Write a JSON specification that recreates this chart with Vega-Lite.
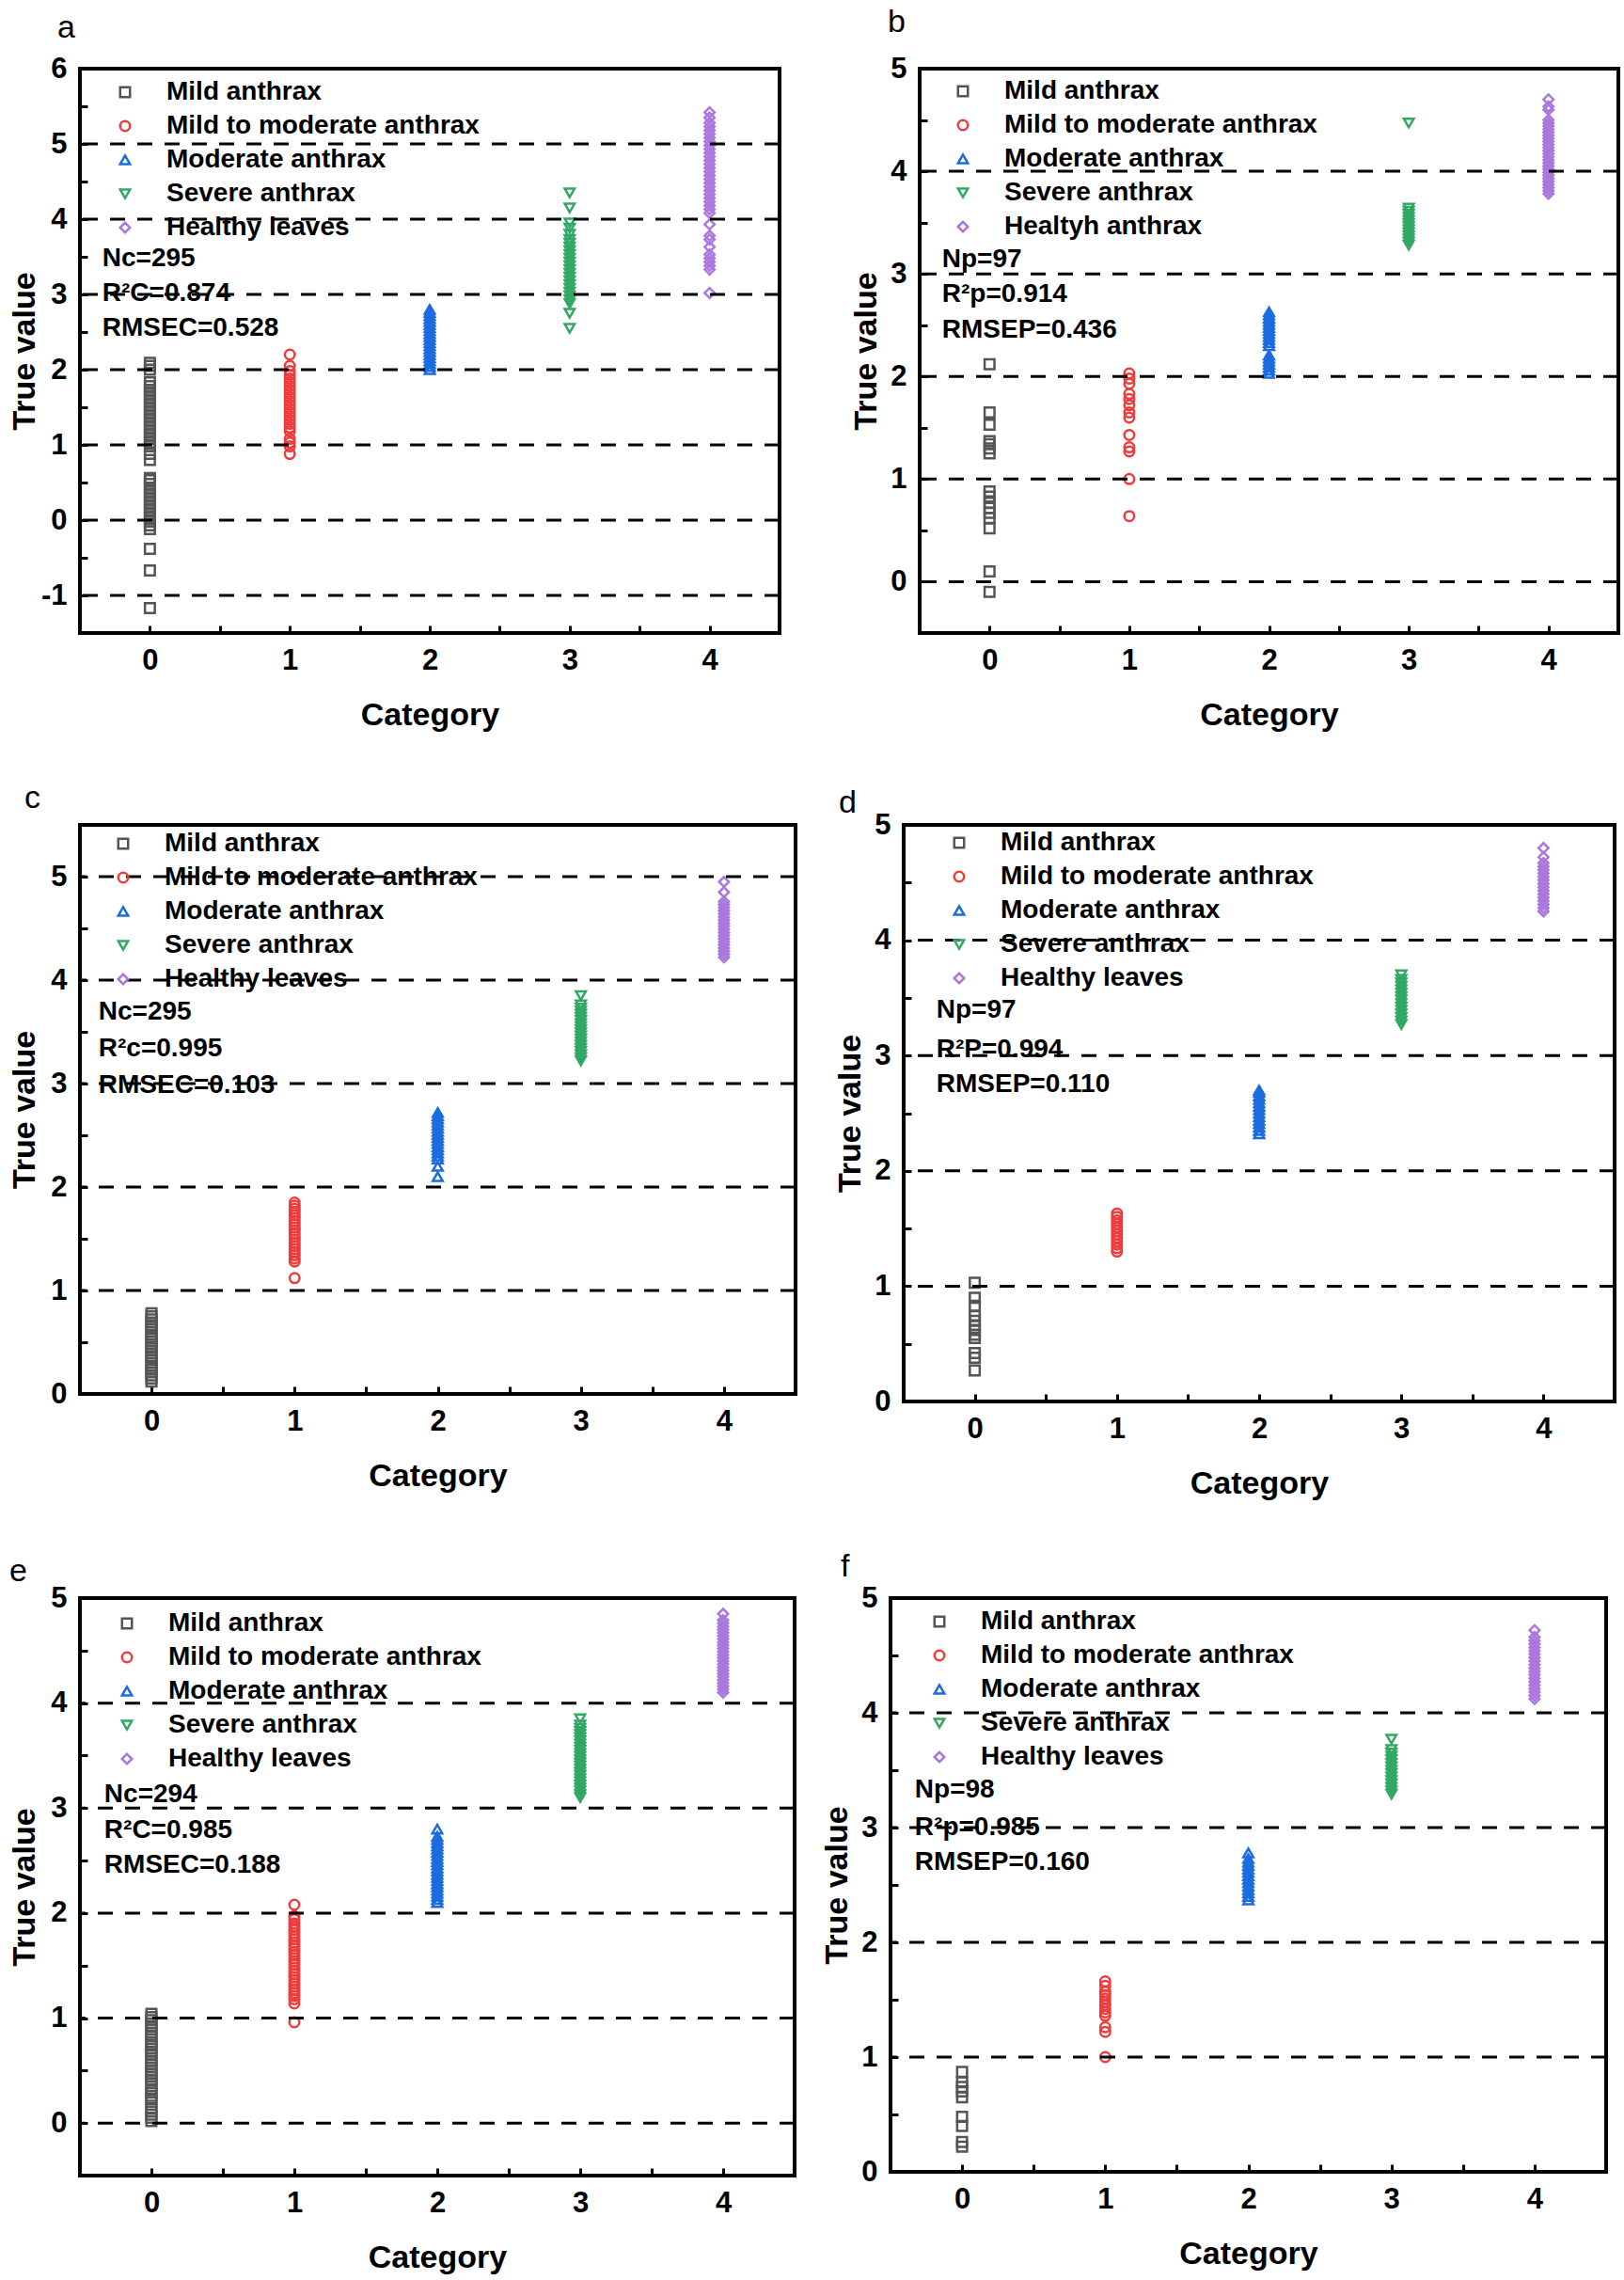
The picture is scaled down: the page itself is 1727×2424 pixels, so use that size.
{
"$schema":"https://vega.github.io/schema/vega-lite/v6.json",
"padding":{"left":7,"top":5,"right":5,"bottom":5},
"datasets":{
"pa":[{"c":0,"v":-1.17},{"c":0,"v":-0.67},{"c":0,"v":-0.38},{"c":0,"v":-0.12},{"c":0,"v":-0.07},{"c":0,"v":-0.02},{"c":0,"v":0.03},{"c":0,"v":0.08},{"c":0,"v":0.13},{"c":0,"v":0.18},{"c":0,"v":0.23},{"c":0,"v":0.28},{"c":0,"v":0.33},{"c":0,"v":0.38},{"c":0,"v":0.43},{"c":0,"v":0.48},{"c":0,"v":0.53},{"c":0,"v":0.56},{"c":0,"v":0.8},{"c":0,"v":0.88},{"c":0,"v":0.98},{"c":0,"v":1.03},{"c":0,"v":1.08},{"c":0,"v":1.13},{"c":0,"v":1.18},{"c":0,"v":1.23},{"c":0,"v":1.28},{"c":0,"v":1.33},{"c":0,"v":1.38},{"c":0,"v":1.43},{"c":0,"v":1.48},{"c":0,"v":1.53},{"c":0,"v":1.58},{"c":0,"v":1.63},{"c":0,"v":1.68},{"c":0,"v":1.73},{"c":0,"v":1.78},{"c":0,"v":1.83},{"c":0,"v":2.0},{"c":0,"v":2.05},{"c":0,"v":2.09},
{"c":1,"v":0.88},{"c":1,"v":0.98},{"c":1,"v":1.03},{"c":1,"v":1.08},{"c":1,"v":1.18},{"c":1,"v":1.23},{"c":1,"v":1.28},{"c":1,"v":1.33},{"c":1,"v":1.38},{"c":1,"v":1.43},{"c":1,"v":1.48},{"c":1,"v":1.53},{"c":1,"v":1.58},{"c":1,"v":1.63},{"c":1,"v":1.68},{"c":1,"v":1.73},{"c":1,"v":1.78},{"c":1,"v":1.83},{"c":1,"v":1.88},{"c":1,"v":1.93},{"c":1,"v":1.98},{"c":1,"v":2.05},{"c":1,"v":2.2},
{"c":2,"v":2.0},{"c":2,"v":2.04},{"c":2,"v":2.08},{"c":2,"v":2.12},{"c":2,"v":2.16},{"c":2,"v":2.2},{"c":2,"v":2.24},{"c":2,"v":2.28},{"c":2,"v":2.32},{"c":2,"v":2.36},{"c":2,"v":2.4},{"c":2,"v":2.44},{"c":2,"v":2.48},{"c":2,"v":2.52},{"c":2,"v":2.56},{"c":2,"v":2.6},{"c":2,"v":2.64},{"c":2,"v":2.68},{"c":2,"v":2.72},{"c":2,"v":2.76},{"c":2,"v":2.8},
{"c":3,"v":2.55},{"c":3,"v":2.75},{"c":3,"v":2.88},{"c":3,"v":2.93},{"c":3,"v":2.98},{"c":3,"v":3.03},{"c":3,"v":3.08},{"c":3,"v":3.13},{"c":3,"v":3.18},{"c":3,"v":3.23},{"c":3,"v":3.28},{"c":3,"v":3.33},{"c":3,"v":3.38},{"c":3,"v":3.43},{"c":3,"v":3.48},{"c":3,"v":3.53},{"c":3,"v":3.58},{"c":3,"v":3.63},{"c":3,"v":3.68},{"c":3,"v":3.73},{"c":3,"v":3.8},{"c":3,"v":3.88},{"c":3,"v":3.95},{"c":3,"v":4.15},{"c":3,"v":4.35},
{"c":4,"v":3.02},{"c":4,"v":3.33},{"c":4,"v":3.38},{"c":4,"v":3.43},{"c":4,"v":3.48},{"c":4,"v":3.53},{"c":4,"v":3.63},{"c":4,"v":3.73},{"c":4,"v":3.78},{"c":4,"v":3.93},{"c":4,"v":4.08},{"c":4,"v":4.13},{"c":4,"v":4.18},{"c":4,"v":4.23},{"c":4,"v":4.28},{"c":4,"v":4.33},{"c":4,"v":4.38},{"c":4,"v":4.43},{"c":4,"v":4.48},{"c":4,"v":4.53},{"c":4,"v":4.58},{"c":4,"v":4.63},{"c":4,"v":4.68},{"c":4,"v":4.73},{"c":4,"v":4.78},{"c":4,"v":4.83},{"c":4,"v":4.88},{"c":4,"v":4.93},{"c":4,"v":4.98},{"c":4,"v":5.03},{"c":4,"v":5.08},{"c":4,"v":5.13},{"c":4,"v":5.18},{"c":4,"v":5.23},{"c":4,"v":5.28},{"c":4,"v":5.35},{"c":4,"v":5.42}],
"pb":[{"c":0,"v":-0.1},{"c":0,"v":0.1},{"c":0,"v":0.52},{"c":0,"v":0.62},{"c":0,"v":0.67},{"c":0,"v":0.72},{"c":0,"v":0.77},{"c":0,"v":0.83},{"c":0,"v":0.88},{"c":0,"v":1.25},{"c":0,"v":1.3},{"c":0,"v":1.34},{"c":0,"v":1.37},{"c":0,"v":1.53},{"c":0,"v":1.65},{"c":0,"v":2.12},
{"c":1,"v":0.64},{"c":1,"v":1.0},{"c":1,"v":1.27},{"c":1,"v":1.31},{"c":1,"v":1.43},{"c":1,"v":1.6},{"c":1,"v":1.65},{"c":1,"v":1.72},{"c":1,"v":1.78},{"c":1,"v":1.83},{"c":1,"v":1.93},{"c":1,"v":1.98},{"c":1,"v":2.03},
{"c":2,"v":2.03},{"c":2,"v":2.06},{"c":2,"v":2.09},{"c":2,"v":2.12},{"c":2,"v":2.15},{"c":2,"v":2.18},{"c":2,"v":2.21},{"c":2,"v":2.3},{"c":2,"v":2.33},{"c":2,"v":2.36},{"c":2,"v":2.39},{"c":2,"v":2.42},{"c":2,"v":2.45},{"c":2,"v":2.48},{"c":2,"v":2.51},{"c":2,"v":2.54},{"c":2,"v":2.57},{"c":2,"v":2.6},{"c":2,"v":2.63},
{"c":3,"v":3.28},{"c":3,"v":3.31},{"c":3,"v":3.34},{"c":3,"v":3.37},{"c":3,"v":3.4},{"c":3,"v":3.43},{"c":3,"v":3.46},{"c":3,"v":3.49},{"c":3,"v":3.52},{"c":3,"v":3.55},{"c":3,"v":3.58},{"c":3,"v":3.61},{"c":3,"v":3.64},{"c":3,"v":4.47},
{"c":4,"v":3.78},{"c":4,"v":3.81},{"c":4,"v":3.84},{"c":4,"v":3.87},{"c":4,"v":3.9},{"c":4,"v":3.93},{"c":4,"v":3.96},{"c":4,"v":3.99},{"c":4,"v":4.02},{"c":4,"v":4.05},{"c":4,"v":4.08},{"c":4,"v":4.11},{"c":4,"v":4.14},{"c":4,"v":4.17},{"c":4,"v":4.2},{"c":4,"v":4.23},{"c":4,"v":4.26},{"c":4,"v":4.29},{"c":4,"v":4.32},{"c":4,"v":4.35},{"c":4,"v":4.38},{"c":4,"v":4.41},{"c":4,"v":4.44},{"c":4,"v":4.47},{"c":4,"v":4.5},{"c":4,"v":4.6},{"c":4,"v":4.63},{"c":4,"v":4.7}],
"pc":[{"c":0,"v":0.12},{"c":0,"v":0.15},{"c":0,"v":0.18},{"c":0,"v":0.21},{"c":0,"v":0.24},{"c":0,"v":0.27},{"c":0,"v":0.3},{"c":0,"v":0.33},{"c":0,"v":0.36},{"c":0,"v":0.39},{"c":0,"v":0.42},{"c":0,"v":0.45},{"c":0,"v":0.48},{"c":0,"v":0.51},{"c":0,"v":0.54},{"c":0,"v":0.57},{"c":0,"v":0.6},{"c":0,"v":0.63},{"c":0,"v":0.66},{"c":0,"v":0.69},{"c":0,"v":0.72},{"c":0,"v":0.75},{"c":0,"v":0.78},
{"c":1,"v":1.12},{"c":1,"v":1.28},{"c":1,"v":1.31},{"c":1,"v":1.34},{"c":1,"v":1.37},{"c":1,"v":1.4},{"c":1,"v":1.43},{"c":1,"v":1.46},{"c":1,"v":1.49},{"c":1,"v":1.52},{"c":1,"v":1.55},{"c":1,"v":1.58},{"c":1,"v":1.61},{"c":1,"v":1.64},{"c":1,"v":1.67},{"c":1,"v":1.7},{"c":1,"v":1.73},{"c":1,"v":1.76},{"c":1,"v":1.79},{"c":1,"v":1.82},{"c":1,"v":1.85},
{"c":2,"v":2.1},{"c":2,"v":2.2},{"c":2,"v":2.27},{"c":2,"v":2.3},{"c":2,"v":2.33},{"c":2,"v":2.36},{"c":2,"v":2.39},{"c":2,"v":2.42},{"c":2,"v":2.45},{"c":2,"v":2.48},{"c":2,"v":2.51},{"c":2,"v":2.54},{"c":2,"v":2.57},{"c":2,"v":2.6},{"c":2,"v":2.63},{"c":2,"v":2.66},{"c":2,"v":2.69},{"c":2,"v":2.72},
{"c":3,"v":3.22},{"c":3,"v":3.25},{"c":3,"v":3.28},{"c":3,"v":3.31},{"c":3,"v":3.34},{"c":3,"v":3.37},{"c":3,"v":3.4},{"c":3,"v":3.43},{"c":3,"v":3.46},{"c":3,"v":3.49},{"c":3,"v":3.52},{"c":3,"v":3.55},{"c":3,"v":3.58},{"c":3,"v":3.61},{"c":3,"v":3.64},{"c":3,"v":3.67},{"c":3,"v":3.7},{"c":3,"v":3.73},{"c":3,"v":3.76},{"c":3,"v":3.85},
{"c":4,"v":4.22},{"c":4,"v":4.25},{"c":4,"v":4.28},{"c":4,"v":4.31},{"c":4,"v":4.34},{"c":4,"v":4.37},{"c":4,"v":4.4},{"c":4,"v":4.43},{"c":4,"v":4.46},{"c":4,"v":4.49},{"c":4,"v":4.52},{"c":4,"v":4.55},{"c":4,"v":4.58},{"c":4,"v":4.61},{"c":4,"v":4.64},{"c":4,"v":4.67},{"c":4,"v":4.7},{"c":4,"v":4.73},{"c":4,"v":4.76},{"c":4,"v":4.85},{"c":4,"v":4.95}],
"pd":[{"c":0,"v":0.27},{"c":0,"v":0.38},{"c":0,"v":0.42},{"c":0,"v":0.55},{"c":0,"v":0.58},{"c":0,"v":0.62},{"c":0,"v":0.66},{"c":0,"v":0.7},{"c":0,"v":0.74},{"c":0,"v":0.83},{"c":0,"v":0.9},{"c":0,"v":1.03},
{"c":1,"v":1.3},{"c":1,"v":1.33},{"c":1,"v":1.36},{"c":1,"v":1.39},{"c":1,"v":1.42},{"c":1,"v":1.45},{"c":1,"v":1.48},{"c":1,"v":1.51},{"c":1,"v":1.54},{"c":1,"v":1.57},{"c":1,"v":1.6},{"c":1,"v":1.63},
{"c":2,"v":2.32},{"c":2,"v":2.35},{"c":2,"v":2.38},{"c":2,"v":2.41},{"c":2,"v":2.44},{"c":2,"v":2.47},{"c":2,"v":2.5},{"c":2,"v":2.53},{"c":2,"v":2.56},{"c":2,"v":2.59},{"c":2,"v":2.62},{"c":2,"v":2.65},{"c":2,"v":2.68},{"c":2,"v":2.7},
{"c":3,"v":3.27},{"c":3,"v":3.3},{"c":3,"v":3.33},{"c":3,"v":3.36},{"c":3,"v":3.39},{"c":3,"v":3.42},{"c":3,"v":3.45},{"c":3,"v":3.48},{"c":3,"v":3.51},{"c":3,"v":3.54},{"c":3,"v":3.57},{"c":3,"v":3.6},{"c":3,"v":3.63},{"c":3,"v":3.66},{"c":3,"v":3.7},
{"c":4,"v":4.25},{"c":4,"v":4.28},{"c":4,"v":4.31},{"c":4,"v":4.34},{"c":4,"v":4.37},{"c":4,"v":4.4},{"c":4,"v":4.43},{"c":4,"v":4.46},{"c":4,"v":4.49},{"c":4,"v":4.52},{"c":4,"v":4.55},{"c":4,"v":4.58},{"c":4,"v":4.61},{"c":4,"v":4.64},{"c":4,"v":4.67},{"c":4,"v":4.72},{"c":4,"v":4.8}],
"pe":[{"c":0,"v":0.02},{"c":0,"v":0.05},{"c":0,"v":0.08},{"c":0,"v":0.11},{"c":0,"v":0.14},{"c":0,"v":0.2},{"c":0,"v":0.23},{"c":0,"v":0.26},{"c":0,"v":0.29},{"c":0,"v":0.32},{"c":0,"v":0.35},{"c":0,"v":0.38},{"c":0,"v":0.41},{"c":0,"v":0.44},{"c":0,"v":0.47},{"c":0,"v":0.5},{"c":0,"v":0.53},{"c":0,"v":0.56},{"c":0,"v":0.59},{"c":0,"v":0.62},{"c":0,"v":0.65},{"c":0,"v":0.68},{"c":0,"v":0.71},{"c":0,"v":0.74},{"c":0,"v":0.77},{"c":0,"v":0.8},{"c":0,"v":0.83},{"c":0,"v":0.86},{"c":0,"v":0.89},{"c":0,"v":0.92},{"c":0,"v":0.95},{"c":0,"v":0.98},{"c":0,"v":1.01},{"c":0,"v":1.04},
{"c":1,"v":0.96},{"c":1,"v":1.14},{"c":1,"v":1.18},{"c":1,"v":1.21},{"c":1,"v":1.24},{"c":1,"v":1.27},{"c":1,"v":1.3},{"c":1,"v":1.33},{"c":1,"v":1.36},{"c":1,"v":1.39},{"c":1,"v":1.42},{"c":1,"v":1.45},{"c":1,"v":1.48},{"c":1,"v":1.51},{"c":1,"v":1.54},{"c":1,"v":1.57},{"c":1,"v":1.6},{"c":1,"v":1.63},{"c":1,"v":1.66},{"c":1,"v":1.69},{"c":1,"v":1.72},{"c":1,"v":1.75},{"c":1,"v":1.78},{"c":1,"v":1.81},{"c":1,"v":1.84},{"c":1,"v":1.87},{"c":1,"v":1.9},{"c":1,"v":1.94},{"c":1,"v":1.97},{"c":1,"v":2.08},
{"c":2,"v":2.1},{"c":2,"v":2.13},{"c":2,"v":2.16},{"c":2,"v":2.19},{"c":2,"v":2.22},{"c":2,"v":2.25},{"c":2,"v":2.28},{"c":2,"v":2.31},{"c":2,"v":2.34},{"c":2,"v":2.37},{"c":2,"v":2.4},{"c":2,"v":2.43},{"c":2,"v":2.46},{"c":2,"v":2.49},{"c":2,"v":2.52},{"c":2,"v":2.55},{"c":2,"v":2.58},{"c":2,"v":2.61},{"c":2,"v":2.64},{"c":2,"v":2.67},{"c":2,"v":2.7},{"c":2,"v":2.73},{"c":2,"v":2.8},
{"c":3,"v":3.1},{"c":3,"v":3.13},{"c":3,"v":3.16},{"c":3,"v":3.19},{"c":3,"v":3.22},{"c":3,"v":3.25},{"c":3,"v":3.28},{"c":3,"v":3.31},{"c":3,"v":3.34},{"c":3,"v":3.37},{"c":3,"v":3.4},{"c":3,"v":3.43},{"c":3,"v":3.46},{"c":3,"v":3.49},{"c":3,"v":3.52},{"c":3,"v":3.55},{"c":3,"v":3.58},{"c":3,"v":3.61},{"c":3,"v":3.64},{"c":3,"v":3.67},{"c":3,"v":3.7},{"c":3,"v":3.73},{"c":3,"v":3.76},{"c":3,"v":3.79},{"c":3,"v":3.85},
{"c":4,"v":4.1},{"c":4,"v":4.13},{"c":4,"v":4.16},{"c":4,"v":4.19},{"c":4,"v":4.22},{"c":4,"v":4.25},{"c":4,"v":4.28},{"c":4,"v":4.31},{"c":4,"v":4.34},{"c":4,"v":4.37},{"c":4,"v":4.4},{"c":4,"v":4.43},{"c":4,"v":4.46},{"c":4,"v":4.49},{"c":4,"v":4.52},{"c":4,"v":4.55},{"c":4,"v":4.58},{"c":4,"v":4.61},{"c":4,"v":4.64},{"c":4,"v":4.67},{"c":4,"v":4.7},{"c":4,"v":4.73},{"c":4,"v":4.76},{"c":4,"v":4.79},{"c":4,"v":4.85}],
"pf":[{"c":0,"v":0.22},{"c":0,"v":0.26},{"c":0,"v":0.4},{"c":0,"v":0.48},{"c":0,"v":0.65},{"c":0,"v":0.7},{"c":0,"v":0.74},{"c":0,"v":0.78},{"c":0,"v":0.87},
{"c":1,"v":1.0},{"c":1,"v":1.22},{"c":1,"v":1.26},{"c":1,"v":1.36},{"c":1,"v":1.39},{"c":1,"v":1.42},{"c":1,"v":1.45},{"c":1,"v":1.48},{"c":1,"v":1.51},{"c":1,"v":1.54},{"c":1,"v":1.57},{"c":1,"v":1.62},{"c":1,"v":1.66},
{"c":2,"v":2.37},{"c":2,"v":2.4},{"c":2,"v":2.43},{"c":2,"v":2.46},{"c":2,"v":2.49},{"c":2,"v":2.52},{"c":2,"v":2.55},{"c":2,"v":2.58},{"c":2,"v":2.61},{"c":2,"v":2.64},{"c":2,"v":2.67},{"c":2,"v":2.7},{"c":2,"v":2.73},{"c":2,"v":2.78},
{"c":3,"v":3.29},{"c":3,"v":3.32},{"c":3,"v":3.35},{"c":3,"v":3.38},{"c":3,"v":3.41},{"c":3,"v":3.44},{"c":3,"v":3.47},{"c":3,"v":3.5},{"c":3,"v":3.53},{"c":3,"v":3.56},{"c":3,"v":3.59},{"c":3,"v":3.62},{"c":3,"v":3.65},{"c":3,"v":3.68},{"c":3,"v":3.77},
{"c":4,"v":4.12},{"c":4,"v":4.15},{"c":4,"v":4.18},{"c":4,"v":4.21},{"c":4,"v":4.24},{"c":4,"v":4.27},{"c":4,"v":4.3},{"c":4,"v":4.33},{"c":4,"v":4.36},{"c":4,"v":4.39},{"c":4,"v":4.42},{"c":4,"v":4.45},{"c":4,"v":4.48},{"c":4,"v":4.51},{"c":4,"v":4.54},{"c":4,"v":4.57},{"c":4,"v":4.6},{"c":4,"v":4.63},{"c":4,"v":4.66},{"c":4,"v":4.72}]
},
"vconcat":[
{"hconcat":[
{"width":744,"height":600,
 "title":{"text":"a","dx":-24,"offset":10},
 "layer":[
  {"data":{"name":"pa"},"mark":{"type":"point","filled":false,"size":110,"strokeWidth":2.5,"opacity":1},
   "encoding":{
    "x":{"field":"c","type":"quantitative","scale":{"domain":[-0.5,4.5],"nice":false,"zero":false},"axis":{"title":"Category","values":[0,0.5,1,1.5,2,2.5,3,3.5,4],"labelExpr":"datum.value % 1 === 0 ? '' + datum.value : ''"}},
    "y":{"field":"v","type":"quantitative","scale":{"domain":[-1.5,6],"nice":false,"zero":false},"axis":{"title":"True value","titlePadding":0,"values":[-1,-0.5,0,0.5,1,1.5,2,2.5,3,3.5,4,4.5,5,5.5,6],"labelExpr":"datum.value % 1 === 0 ? '' + datum.value : ''"}},
    "color":{"field":"c","type":"nominal","scale":{"domain":[0,1,2,3,4],"range":["#555555","#ee3b3b","#1c6ce0","#32a865","#aa78dd"]},"legend":{"title":null,"legendX":34,"legendY":11,"labelExpr":"['Mild anthrax','Mild to moderate anthrax','Moderate anthrax','Severe anthrax','Healthy leaves'][datum.value]"}},
    "shape":{"field":"c","type":"nominal","scale":{"domain":[0,1,2,3,4],"range":["square","circle","triangle-up","triangle-down","diamond"]},"legend":{"title":null,"legendX":34,"legendY":11,"labelExpr":"['Mild anthrax','Mild to moderate anthrax','Moderate anthrax','Severe anthrax','Healthy leaves'][datum.value]"}}
   }},
  {"data":{"values":[{"t":"Nc=295","x":-0.34,"y":3.475},{"t":"R²C=0.874","x":-0.34,"y":3.01},{"t":"RMSEC=0.528","x":-0.34,"y":2.55}]},
   "mark":{"type":"text","align":"left","baseline":"middle","font":"Liberation Sans","fontSize":28,"fontWeight":"bold","color":"black"},
   "encoding":{"x":{"field":"x","type":"quantitative","title":"Category"},"y":{"field":"y","type":"quantitative","title":"True value"},"text":{"field":"t"}}},
  {"data":{"values":[{"g":-1},{"g":0},{"g":1},{"g":2},{"g":3},{"g":4},{"g":5}]},
   "mark":{"type":"rule","color":"black","strokeWidth":3,"strokeDash":[16,13]},
   "encoding":{"y":{"field":"g","type":"quantitative","title":"True value"}}}
 ]},
{"width":743,"height":600,
 "title":{"text":"b","dx":-34,"offset":16},
 "layer":[
  {"data":{"name":"pb"},"mark":{"type":"point","filled":false,"size":110,"strokeWidth":2.5,"opacity":1},
   "encoding":{
    "x":{"field":"c","type":"quantitative","scale":{"domain":[-0.5,4.5],"nice":false,"zero":false},"axis":{"title":"Category","values":[0,0.5,1,1.5,2,2.5,3,3.5,4],"labelExpr":"datum.value % 1 === 0 ? '' + datum.value : ''"}},
    "y":{"field":"v","type":"quantitative","scale":{"domain":[-0.5,5],"nice":false,"zero":false},"axis":{"title":"True value","values":[0,0.5,1,1.5,2,2.5,3,3.5,4,4.5,5],"labelExpr":"datum.value % 1 === 0 ? '' + datum.value : ''"}},
    "color":{"field":"c","type":"nominal","scale":{"domain":[0,1,2,3,4],"range":["#555555","#ee3b3b","#1c6ce0","#32a865","#aa78dd"]},"legend":{"title":null,"legendX":32,"legendY":10,"labelExpr":"['Mild anthrax','Mild to moderate anthrax','Moderate anthrax','Severe anthrax','Healtyh anthrax'][datum.value]"}},
    "shape":{"field":"c","type":"nominal","scale":{"domain":[0,1,2,3,4],"range":["square","circle","triangle-up","triangle-down","diamond"]},"legend":{"title":null,"legendX":32,"legendY":10,"labelExpr":"['Mild anthrax','Mild to moderate anthrax','Moderate anthrax','Severe anthrax','Healtyh anthrax'][datum.value]"}}
   }},
  {"data":{"values":[{"t":"Np=97","x":-0.34,"y":3.14},{"t":"R²p=0.914","x":-0.34,"y":2.8},{"t":"RMSEP=0.436","x":-0.34,"y":2.45}]},
   "mark":{"type":"text","align":"left","baseline":"middle","font":"Liberation Sans","fontSize":28,"fontWeight":"bold","color":"black"},
   "encoding":{"x":{"field":"x","type":"quantitative","title":"Category"},"y":{"field":"y","type":"quantitative","title":"True value"},"text":{"field":"t"}}},
  {"data":{"values":[{"g":0},{"g":1},{"g":2},{"g":3},{"g":4}]},
   "mark":{"type":"rule","color":"black","strokeWidth":3,"strokeDash":[16,13]},
   "encoding":{"y":{"field":"g","type":"quantitative","title":"True value"}}}
 ]}
],"spacing":69,"resolve":{"scale":{"x":"independent","y":"independent","color":"independent","shape":"independent"},"legend":{"color":"independent","shape":"independent"}}},
{"hconcat":[
{"width":761,"height":605,
 "title":{"text":"c","dx":-59,"offset":11},
 "layer":[
  {"data":{"name":"pc"},"mark":{"type":"point","filled":false,"size":110,"strokeWidth":2.5,"opacity":1},
   "encoding":{
    "x":{"field":"c","type":"quantitative","scale":{"domain":[-0.5,4.5],"nice":false,"zero":false},"axis":{"title":"Category","values":[0,0.5,1,1.5,2,2.5,3,3.5,4],"labelExpr":"datum.value % 1 === 0 ? '' + datum.value : ''"}},
    "y":{"field":"v","type":"quantitative","scale":{"domain":[0,5.5],"nice":false,"zero":false},"axis":{"title":"True value","titlePadding":10,"values":[0,0.5,1,1.5,2,2.5,3,3.5,4,4.5,5],"labelExpr":"datum.value % 1 === 0 ? '' + datum.value : ''"}},
    "color":{"field":"c","type":"nominal","scale":{"domain":[0,1,2,3,4],"range":["#555555","#ee3b3b","#1c6ce0","#32a865","#aa78dd"]},"legend":{"title":null,"legendX":32,"legendY":6,"labelExpr":"['Mild anthrax','Mild to moderate anthrax','Moderate anthrax','Severe anthrax','Healthy leaves'][datum.value]"}},
    "shape":{"field":"c","type":"nominal","scale":{"domain":[0,1,2,3,4],"range":["square","circle","triangle-up","triangle-down","diamond"]},"legend":{"title":null,"legendX":32,"legendY":6,"labelExpr":"['Mild anthrax','Mild to moderate anthrax','Moderate anthrax','Severe anthrax','Healthy leaves'][datum.value]"}}
   }},
  {"data":{"values":[{"t":"Nc=295","x":-0.37,"y":3.69},{"t":"R²c=0.995","x":-0.37,"y":3.34},{"t":"RMSEC=0.103","x":-0.37,"y":2.98}]},
   "mark":{"type":"text","align":"left","baseline":"middle","font":"Liberation Sans","fontSize":28,"fontWeight":"bold","color":"black"},
   "encoding":{"x":{"field":"x","type":"quantitative","title":"Category"},"y":{"field":"y","type":"quantitative","title":"True value"},"text":{"field":"t"}}},
  {"data":{"values":[{"g":1},{"g":2},{"g":3},{"g":4},{"g":5}]},
   "mark":{"type":"rule","color":"black","strokeWidth":3,"strokeDash":[16,13]},
   "encoding":{"y":{"field":"g","type":"quantitative","title":"True value"}}}
 ]},
{"width":756,"height":613,
 "title":{"text":"d","dx":-69,"offset":-10},
 "layer":[
  {"data":{"name":"pd"},"mark":{"type":"point","filled":false,"size":110,"strokeWidth":2.5,"opacity":1},
   "encoding":{
    "x":{"field":"c","type":"quantitative","scale":{"domain":[-0.5,4.5],"nice":false,"zero":false},"axis":{"title":"Category","values":[0,0.5,1,1.5,2,2.5,3,3.5,4],"labelExpr":"datum.value % 1 === 0 ? '' + datum.value : ''"}},
    "y":{"field":"v","type":"quantitative","scale":{"domain":[0,5],"nice":false,"zero":false},"axis":{"title":"True value","values":[0,0.5,1,1.5,2,2.5,3,3.5,4,4.5,5],"labelExpr":"datum.value % 1 === 0 ? '' + datum.value : ''"}},
    "color":{"field":"c","type":"nominal","scale":{"domain":[0,1,2,3,4],"range":["#555555","#ee3b3b","#1c6ce0","#32a865","#aa78dd"]},"legend":{"title":null,"legendX":45,"legendY":5,"labelExpr":"['Mild anthrax','Mild to moderate anthrax','Moderate anthrax','Severe anthrax','Healthy leaves'][datum.value]"}},
    "shape":{"field":"c","type":"nominal","scale":{"domain":[0,1,2,3,4],"range":["square","circle","triangle-up","triangle-down","diamond"]},"legend":{"title":null,"legendX":45,"legendY":5,"labelExpr":"['Mild anthrax','Mild to moderate anthrax','Moderate anthrax','Severe anthrax','Healthy leaves'][datum.value]"}}
   }},
  {"data":{"values":[{"t":"Np=97","x":-0.27,"y":3.39},{"t":"R²P=0.994","x":-0.27,"y":3.05},{"t":"RMSEP=0.110","x":-0.27,"y":2.75}]},
   "mark":{"type":"text","align":"left","baseline":"middle","font":"Liberation Sans","fontSize":28,"fontWeight":"bold","color":"black"},
   "encoding":{"x":{"field":"x","type":"quantitative","title":"Category"},"y":{"field":"y","type":"quantitative","title":"True value"},"text":{"field":"t"}}},
  {"data":{"values":[{"g":1},{"g":2},{"g":3},{"g":4}]},
   "mark":{"type":"rule","color":"black","strokeWidth":3,"strokeDash":[16,13]},
   "encoding":{"y":{"field":"g","type":"quantitative","title":"True value"}}}
 ]}
],"spacing":35,"resolve":{"scale":{"x":"independent","y":"independent","color":"independent","shape":"independent"},"legend":{"color":"independent","shape":"independent"}}},
{"hconcat":[
{"width":760,"height":614,
 "title":{"text":"e","dx":-75,"offset":-5},
 "layer":[
  {"data":{"name":"pe"},"mark":{"type":"point","filled":false,"size":110,"strokeWidth":2.5,"opacity":1},
   "encoding":{
    "x":{"field":"c","type":"quantitative","scale":{"domain":[-0.5,4.5],"nice":false,"zero":false},"axis":{"title":"Category","values":[0,0.5,1,1.5,2,2.5,3,3.5,4],"labelExpr":"datum.value % 1 === 0 ? '' + datum.value : ''"}},
    "y":{"field":"v","type":"quantitative","scale":{"domain":[-0.5,5],"nice":false,"zero":false},"axis":{"title":"True value","titlePadding":10,"values":[0,0.5,1,1.5,2,2.5,3,3.5,4,4.5,5],"labelExpr":"datum.value % 1 === 0 ? '' + datum.value : ''"}},
    "color":{"field":"c","type":"nominal","scale":{"domain":[0,1,2,3,4],"range":["#555555","#ee3b3b","#1c6ce0","#32a865","#aa78dd"]},"legend":{"title":null,"legendX":36,"legendY":13,"labelExpr":"['Mild anthrax','Mild to moderate anthrax','Moderate anthrax','Severe anthrax','Healthy leaves'][datum.value]"}},
    "shape":{"field":"c","type":"nominal","scale":{"domain":[0,1,2,3,4],"range":["square","circle","triangle-up","triangle-down","diamond"]},"legend":{"title":null,"legendX":36,"legendY":13,"labelExpr":"['Mild anthrax','Mild to moderate anthrax','Moderate anthrax','Severe anthrax','Healthy leaves'][datum.value]"}}
   }},
  {"data":{"values":[{"t":"Nc=294","x":-0.33,"y":3.13},{"t":"R²C=0.985","x":-0.33,"y":2.79},{"t":"RMSEC=0.188","x":-0.33,"y":2.46}]},
   "mark":{"type":"text","align":"left","baseline":"middle","font":"Liberation Sans","fontSize":28,"fontWeight":"bold","color":"black"},
   "encoding":{"x":{"field":"x","type":"quantitative","title":"Category"},"y":{"field":"y","type":"quantitative","title":"True value"},"text":{"field":"t"}}},
  {"data":{"values":[{"g":0},{"g":1},{"g":2},{"g":3},{"g":4}]},
   "mark":{"type":"rule","color":"black","strokeWidth":3,"strokeDash":[16,13]},
   "encoding":{"y":{"field":"g","type":"quantitative","title":"True value"}}}
 ]},
{"width":761,"height":610,
 "title":{"text":"f","dx":-53,"offset":0},
 "layer":[
  {"data":{"name":"pf"},"mark":{"type":"point","filled":false,"size":110,"strokeWidth":2.5,"opacity":1},
   "encoding":{
    "x":{"field":"c","type":"quantitative","scale":{"domain":[-0.5,4.5],"nice":false,"zero":false},"axis":{"title":"Category","values":[0,0.5,1,1.5,2,2.5,3,3.5,4],"labelExpr":"datum.value % 1 === 0 ? '' + datum.value : ''"}},
    "y":{"field":"v","type":"quantitative","scale":{"domain":[0,5],"nice":false,"zero":false},"axis":{"title":"True value","values":[0,0.5,1,1.5,2,2.5,3,3.5,4,4.5,5],"labelExpr":"datum.value % 1 === 0 ? '' + datum.value : ''"}},
    "color":{"field":"c","type":"nominal","scale":{"domain":[0,1,2,3,4],"range":["#555555","#ee3b3b","#1c6ce0","#32a865","#aa78dd"]},"legend":{"title":null,"legendX":38,"legendY":11,"labelExpr":"['Mild anthrax','Mild to moderate anthrax','Moderate anthrax','Severe anthrax','Healthy leaves'][datum.value]"}},
    "shape":{"field":"c","type":"nominal","scale":{"domain":[0,1,2,3,4],"range":["square","circle","triangle-up","triangle-down","diamond"]},"legend":{"title":null,"legendX":38,"legendY":11,"labelExpr":"['Mild anthrax','Mild to moderate anthrax','Moderate anthrax','Severe anthrax','Healthy leaves'][datum.value]"}}
   }},
  {"data":{"values":[{"t":"Np=98","x":-0.33,"y":3.33},{"t":"R²p=0.985","x":-0.33,"y":3.0},{"t":"RMSEP=0.160","x":-0.33,"y":2.7}]},
   "mark":{"type":"text","align":"left","baseline":"middle","font":"Liberation Sans","fontSize":28,"fontWeight":"bold","color":"black"},
   "encoding":{"x":{"field":"x","type":"quantitative","title":"Category"},"y":{"field":"y","type":"quantitative","title":"True value"},"text":{"field":"t"}}},
  {"data":{"values":[{"g":1},{"g":2},{"g":3},{"g":4}]},
   "mark":{"type":"rule","color":"black","strokeWidth":3,"strokeDash":[16,13]},
   "encoding":{"y":{"field":"g","type":"quantitative","title":"True value"}}}
 ]}
],"spacing":22,"resolve":{"scale":{"x":"independent","y":"independent","color":"independent","shape":"independent"},"legend":{"color":"independent","shape":"independent"}}}
],
"spacing":51,
"resolve":{"scale":{"x":"independent","y":"independent","color":"independent","shape":"independent"},"legend":{"color":"independent","shape":"independent"}},
"config":{
 "background":"white",
 "view":{"stroke":"black","strokeWidth":4},
 "axis":{"domain":false,"grid":false,"ticks":true,"tickColor":"black","tickWidth":3,"tickSize":-8,"labelFont":"Liberation Sans","labelFontSize":31,"labelFontWeight":"bold","labelColor":"black","labelFlush":false,"labelOverlap":false,"titleFont":"Liberation Sans","titleFontSize":34,"titleFontWeight":"bold","titleColor":"black"},
 "axisX":{"labelPadding":22,"titlePadding":26},
 "axisY":{"labelPadding":22,"titlePadding":8},
 "legend":{"orient":"none","labelFont":"Liberation Sans","labelFontSize":28,"labelFontWeight":"bold","labelColor":"black","labelLimit":800,"symbolStrokeWidth":2.5,"symbolSize":110,"rowPadding":8,"labelOffset":30,"padding":0},
 "title":{"font":"Liberation Sans","fontSize":34,"fontWeight":"normal","anchor":"start","frame":"group","baseline":"alphabetic","color":"black"}
}
}
